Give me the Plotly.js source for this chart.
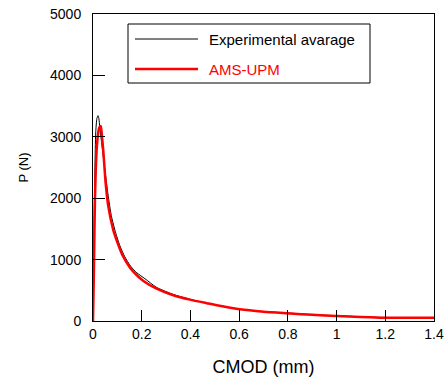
<!DOCTYPE html>
<html>
<head>
<meta charset="utf-8">
<script src="https://cdn.plot.ly/plotly-3.0.1.min.js"></script>
<style>html,body{margin:0;padding:0;background:#fff}#chart{width:448px;height:380px}</style>
</head>
<body>
<div id="chart"></div>
<script>
// Experimental average curve
const expX = [0, 0.001, 0.004, 0.008, 0.011, 0.016, 0.0205, 0.024, 0.028, 0.034, 0.040, 0.046, 0.054, 0.062, 0.075, 0.090, 0.110, 0.130, 0.155, 0.180, 0.213, 0.260, 0.330, 0.400, 0.470, 0.530, 0.600, 0.700, 0.810, 0.900, 1.000, 1.100, 1.200, 1.300, 1.400];
const expY = [0, 600, 1500, 2500, 3060, 3300, 3344, 3300, 3150, 2950, 2750, 2550, 2300, 2050, 1720, 1480, 1230, 1050, 890, 785, 690, 550, 432, 352, 287, 242, 193, 154, 127, 104, 86, 69, 57, 54, 54];
// AMS-UPM model curve
const modX = [0, 0.002, 0.004, 0.008, 0.015, 0.022, 0.027, 0.032, 0.037, 0.042, 0.052, 0.063, 0.083, 0.100, 0.120, 0.152, 0.180, 0.207, 0.261, 0.330, 0.398, 0.467, 0.520, 0.603, 0.700, 0.810, 0.900, 1.000, 1.100, 1.178, 1.250, 1.400];
const modY = [0, 420, 885, 1970, 2785, 3083, 3160, 3175, 3000, 2785, 2243, 1862, 1482, 1280, 1080, 869, 745, 653, 526, 420, 348, 290, 247, 190, 152, 124, 100, 81, 65, 54, 52, 52];
const xTicks = [0, 0.2, 0.4, 0.6, 0.8, 1, 1.2, 1.4];
const yTicks = [0, 1000, 2000, 3000, 4000, 5000];
const legendNames = ["Experimental avarage", "AMS-UPM"];

const font = "Liberation Sans, Arial, Helvetica, sans-serif";

const traces = [
  {x: expX, y: expY, type: "scatter", mode: "lines", name: legendNames[0],
   line: {color: "#000000", width: 1, shape: "spline", smoothing: 0.6}, showlegend: false},
  {x: modX, y: modY, type: "scatter", mode: "lines", name: legendNames[1],
   line: {color: "#ff0000", width: 2.5, shape: "spline", smoothing: 0.6}, showlegend: false}
];

const L = 93, T = 14, W = 341, H = 307;
const px = v => (v - L) / W;
const py = v => (T + H - v) / H;

const layout = {
  width: 448, height: 380,
  margin: {l: 93, r: 14, t: 14, b: 59, pad: 0},
  paper_bgcolor: "#ffffff", plot_bgcolor: "#ffffff",
  font: {family: font, color: "#000000", size: 14},
  showlegend: false,
  xaxis: {
    range: [0, 1.4], tickvals: xTicks, ticktext: xTicks.map(String),
    ticks: "inside", ticklen: 11, tickwidth: 1, tickcolor: "#000",
    showline: true, linecolor: "#000", linewidth: 1, mirror: true,
    showgrid: false, zeroline: false,
    tickfont: {family: font, size: 14, color: "#000"},
    title: {text: "CMOD (mm)", font: {family: font, size: 18, color: "#000"}, standoff: 19}
  },
  yaxis: {
    range: [0, 5000], tickvals: yTicks, ticktext: yTicks.map(String),
    ticks: "inside", ticklen: 12, tickwidth: 1, tickcolor: "#000",
    showline: true, linecolor: "#000", linewidth: 1, mirror: true,
    showgrid: false, zeroline: false, ticklabelstandoff: 8,
    tickfont: {family: font, size: 14, color: "#000"},
    title: {text: "P (N)", font: {family: font, size: 13, color: "#000"}, standoff: 18}
  },
  shapes: [
    {type: "rect", xref: "paper", yref: "paper", x0: px(128), x1: px(370), y0: py(83), y1: py(24),
     line: {color: "#000", width: 1}, fillcolor: "#ffffff", layer: "above"},
    {type: "line", xref: "paper", yref: "paper", x0: px(135), x1: px(198), y0: py(39), y1: py(39),
     line: {color: "#000", width: 1}},
    {type: "line", xref: "paper", yref: "paper", x0: px(135), x1: px(198), y0: py(69), y1: py(69),
     line: {color: "#ff0000", width: 2.5}}
  ],
  annotations: [
    {xref: "paper", yref: "paper", x: px(207), y: py(39), xanchor: "left", yanchor: "middle",
     text: legendNames[0], showarrow: false, font: {family: font, size: 15, color: "#000"}},
    {xref: "paper", yref: "paper", x: px(207), y: py(69), xanchor: "left", yanchor: "middle",
     text: legendNames[1], showarrow: false, font: {family: font, size: 15, color: "#ff0000"}}
  ]
};

Plotly.newPlot("chart", traces, layout, {displayModeBar: false, staticPlot: true});
</script>
</body>
</html>
